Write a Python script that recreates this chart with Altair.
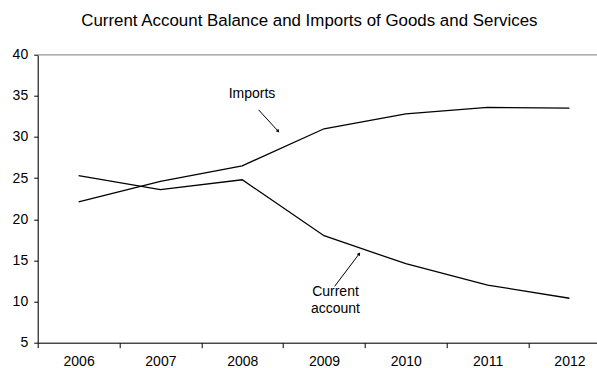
import altair as alt
import pandas as pd

years = [2006, 2007, 2008, 2009, 2010, 2011, 2012]
imports = [22.1, 24.6, 26.5, 31.0, 32.8, 33.6, 33.5]
current_account = [25.3, 23.6, 24.8, 18.0, 14.6, 12.0, 10.4]

y_ticks = [5, 10, 15, 20, 25, 30, 35, 40]
x_ticks = [2005.5, 2006, 2006.5, 2007, 2007.5, 2008, 2008.5, 2009, 2009.5,
           2010, 2010.5, 2011, 2011.5, 2012]

ann_text = ["Imports", "Current", "account"]
ann_x = [2008.12, 2009.14, 2009.14]
ann_y = [35.2, 11.2, 9.1]

arrow_x = [2008.20, 2009.13]
arrow_y = [33.3, 11.85]
arrow_x2 = [2008.44, 2009.43]
arrow_y2 = [30.7, 15.8]
arrow_angle = [137, 37]

FONT = "Liberation Sans"

df = pd.DataFrame(
    {
        "year": years * 2,
        "value": imports + current_account,
        "series": ["Imports"] * len(years) + ["Current account"] * len(years),
    }
)
ann_df = pd.DataFrame({"text": ann_text, "x": ann_x, "y": ann_y})
arr_df = pd.DataFrame(
    {"x": arrow_x, "y": arrow_y, "x2": arrow_x2, "y2": arrow_y2, "angle": arrow_angle}
)

x_scale = alt.Scale(domain=[2005.5, 2012.337], nice=False, zero=False)
y_scale = alt.Scale(domain=[5, 40], nice=False, zero=False)

x_axis = alt.Axis(
    values=x_ticks,
    labelExpr="datum.value % 1 == 0 ? '' + datum.value : ''",
    tickOpacity={"condition": {"test": "datum.value % 1 == 0", "value": 0}, "value": 1},
    grid=False,
    domainColor="black",
    tickColor="black",
    tickSize=5,
    labelPadding=7,
    labelFont=FONT,
    labelFontSize=14,
    labelColor="black",
    labelFlush=False,
    labelOverlap=False,
    title=None,
)

y_axis = alt.Axis(
    values=y_ticks,
    grid=False,
    domainColor="black",
    tickColor="black",
    tickSize=4,
    labelPadding=6,
    labelFont=FONT,
    labelFontSize=14,
    labelColor="black",
    title=None,
)

top_rule = alt.Chart(pd.DataFrame({"v": [40]})).mark_rule(
    color="#b0b0b0", strokeWidth=1.5
).encode(
    y=alt.Y("v:Q", scale=y_scale, axis=y_axis),
)

lines = alt.Chart(df).mark_line(color="black", strokeWidth=1.3).encode(
    x=alt.X("year:Q", scale=x_scale, axis=x_axis),
    y=alt.Y("value:Q", scale=y_scale, axis=y_axis),
    detail="series:N",
)

texts = alt.Chart(ann_df).mark_text(
    font=FONT, fontSize=14, color="black", align="center", baseline="middle"
).encode(
    x=alt.X("x:Q", scale=x_scale, axis=x_axis),
    y=alt.Y("y:Q", scale=y_scale, axis=y_axis),
    text="text:N",
)

arrow_lines = alt.Chart(arr_df).mark_rule(color="black", strokeWidth=1).encode(
    x=alt.X("x:Q", scale=x_scale, axis=x_axis),
    y=alt.Y("y:Q", scale=y_scale, axis=y_axis),
    x2="x2:Q",
    y2="y2:Q",
)

arrow_heads = alt.Chart(arr_df).mark_point(
    shape="triangle-up", filled=True, color="black", size=14, opacity=1
).encode(
    x=alt.X("x2:Q", scale=x_scale, axis=x_axis),
    y=alt.Y("y2:Q", scale=y_scale, axis=y_axis),
    angle=alt.Angle("angle:Q", scale=None),
)

chart = (
    alt.layer(top_rule, lines, texts, arrow_lines, arrow_heads)
    .properties(
        width=559.3,
        height=288,
        autosize=alt.AutoSizeParams(type="none"),
        padding={"left": 37.7, "right": 0, "top": 54.7, "bottom": 25.3},
        title=alt.TitleParams(
            "Current Account Balance and Imports of Goods and Services",
            font=FONT,
            fontSize=16.9,
            fontWeight="normal",
            color="black",
            anchor="middle",
            baseline="alphabetic",
            dx=-8,
            offset=5,
        ),
    )
    .configure_view(stroke=None)
    .configure(background="white")
)

chart.save("out.html", embed_options={"renderer": "svg", "actions": False})
